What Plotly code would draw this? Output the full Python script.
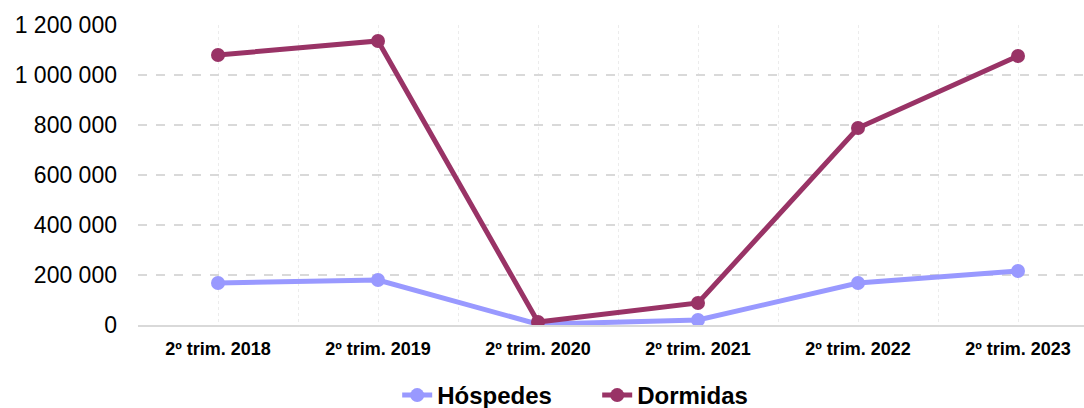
import plotly.graph_objects as go

categories = ["2º trim. 2018", "2º trim. 2019", "2º trim. 2020", "2º trim. 2021", "2º trim. 2022", "2º trim. 2023"]
hospedes = [168000, 180000, 3000, 20000, 168000, 216000]
dormidas = [1080000, 1136000, 12000, 88000, 788000, 1076000]
y_ticks = [0, 200000, 400000, 600000, 800000, 1000000, 1200000]

x_idx = list(range(len(categories)))

fig = go.Figure()
fig.add_trace(go.Scatter(
    x=x_idx, y=hospedes, name="Hóspedes", mode="lines+markers",
    line=dict(color="#9999FF", width=5), marker=dict(size=14, color="#9999FF"),
))
fig.add_trace(go.Scatter(
    x=x_idx, y=dormidas, name="Dormidas", mode="lines+markers",
    line=dict(color="#993366", width=5), marker=dict(size=14, color="#993366"),
))

fig.update_layout(
    width=1084, height=408,
    margin=dict(l=138, r=0, t=25, b=83, autoexpand=False),
    paper_bgcolor="white", plot_bgcolor="white",
    separators=", ",
    font=dict(family="Liberation Sans, Arial, sans-serif", color="black"),
    showlegend=True,
    legend=dict(orientation="h", x=297 / 1084, xanchor="left", y=-0.16, yanchor="top",
                font=dict(size=24, family="Liberation Sans, Arial, sans-serif", weight="bold"),
                entrywidth=155, tracegroupgap=0),
    xaxis=dict(
        tickmode="array", tickvals=x_idx, ticktext=categories,
        range=[-0.5, 5.4125], automargin=False,
        tickfont=dict(size=18, weight="bold"),
        showgrid=True, gridcolor="#ececec", griddash="dot", gridwidth=1,
        minor=dict(tick0=-0.5, dtick=1, showgrid=True, gridcolor="#ececec", griddash="dot", gridwidth=1),
        showline=True, linecolor="#d9d9d9", linewidth=2,
        zeroline=False, ticks="", ticklabelstandoff=6,
    ),
    yaxis=dict(
        range=[0, 1200000], tickvals=y_ticks, tickformat=",d", automargin=False,
        tickfont=dict(size=23),
        showgrid=True, gridcolor="#d9d9d9", griddash="dash", gridwidth=1.5,
        zeroline=False, showline=False, ticks="", ticklabelstandoff=20,
    ),
)

fig.write_html("out.html", config={"displayModeBar": False},
               post_script="document.body.style.margin='0';document.body.style.overflow='hidden';")
